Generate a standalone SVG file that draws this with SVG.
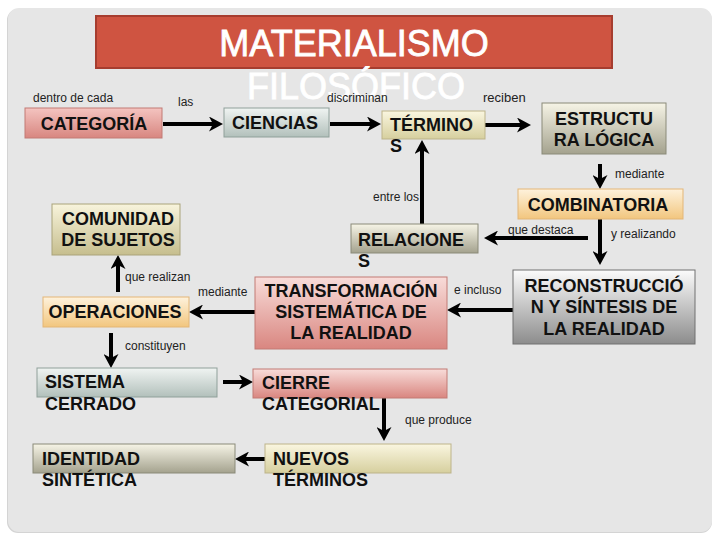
<svg xmlns="http://www.w3.org/2000/svg" width="720" height="540" viewBox="0 0 720 540">
<style>
.lbl{font-family:"Liberation Sans",Arial,sans-serif;font-size:12px;fill:#222}
.bt{font-family:"Liberation Sans",Arial,sans-serif;font-size:18px;font-weight:bold;fill:#111}
.btc{font-family:"Liberation Sans",Arial,sans-serif;font-size:18px;font-weight:bold;fill:#111;text-anchor:middle}
.ttl{font-family:"Liberation Sans",Arial,sans-serif;font-size:36px;fill:#fff;text-anchor:middle;stroke:#fff;stroke-width:0.8}
.con line{stroke:#000;stroke-width:4;marker-end:url(#ah)}
</style>
<defs>
<marker id="ah" markerUnits="userSpaceOnUse" markerWidth="15" markerHeight="15" refX="4" refY="7.5" orient="auto">
<path d="M0,0 L14,7.5 L0,15 L4,7.5 z" fill="#000"/>
</marker>
<linearGradient id="gPink" x1="0" y1="0" x2="0" y2="1"><stop offset="0" stop-color="#f8dcd9"/><stop offset="1" stop-color="#d98680"/></linearGradient>
<linearGradient id="gPink2" x1="0" y1="0" x2="0" y2="1"><stop offset="0" stop-color="#f4c4c0"/><stop offset="1" stop-color="#d88680"/></linearGradient>
<linearGradient id="gGreen" x1="0" y1="0" x2="0" y2="1"><stop offset="0" stop-color="#f0f4f2"/><stop offset="1" stop-color="#b2c0bb"/></linearGradient>
<linearGradient id="gYellow" x1="0" y1="0" x2="0" y2="1"><stop offset="0" stop-color="#faf6e0"/><stop offset="1" stop-color="#d6cf9e"/></linearGradient>
<linearGradient id="gOlive" x1="0" y1="0" x2="0" y2="1"><stop offset="0" stop-color="#f6f4e6"/><stop offset="1" stop-color="#a4a28e"/></linearGradient>
<linearGradient id="gOlive2" x1="0" y1="0" x2="0" y2="1"><stop offset="0" stop-color="#f8f4dc"/><stop offset="1" stop-color="#c6be8e"/></linearGradient>
<linearGradient id="gOrange" x1="0" y1="0" x2="0" y2="1"><stop offset="0" stop-color="#fef2dc"/><stop offset="1" stop-color="#f2c67e"/></linearGradient>
<linearGradient id="gGray" x1="0" y1="0" x2="0" y2="1"><stop offset="0" stop-color="#fbfbfb"/><stop offset="1" stop-color="#8c8c8c"/></linearGradient>
</defs>
<rect x="0" y="0" width="720" height="540" fill="#fff"/>
<rect x="7" y="9" width="705" height="524" rx="11" fill="#d4d4d4"/>
<rect x="8" y="8" width="704" height="524" rx="11" fill="#e6e6e6"/>

<g id="title">
<rect x="96" y="16" width="516" height="52" fill="#cf5441" stroke="#a63d2f" stroke-width="2"/>
<text class="ttl" x="354" y="56">MATERIALISMO</text>
<text class="ttl" x="356" y="99">FILOSÓFICO</text>
</g>

<g id="labels">
<text class="lbl" x="33" y="102">dentro de cada</text>
<text class="lbl" x="178" y="106">las</text>
<text class="lbl" x="327" y="102">discriminan</text>
<text class="lbl" x="483" y="102" style="font-size:13px">reciben</text>
<text class="lbl" x="615" y="178">mediante</text>
<text class="lbl" x="373" y="201">entre los</text>
<text class="lbl" x="508" y="234">que destaca</text>
<text class="lbl" x="611" y="238">y realizando</text>
<text class="lbl" x="454" y="294">e incluso</text>
<text class="lbl" x="198" y="296">mediante</text>
<text class="lbl" x="125" y="281">que realizan</text>
<text class="lbl" x="125" y="350">constituyen</text>
<text class="lbl" x="405" y="424">que produce</text>
</g>

<g class="con" id="connectors">
<line x1="163" y1="124" x2="213" y2="124"/>
<line x1="330" y1="124" x2="371" y2="124"/>
<line x1="485" y1="125" x2="521" y2="125"/>
<line x1="600" y1="164" x2="600" y2="179"/>
<line x1="600" y1="219" x2="600" y2="255"/>
<line x1="588" y1="238" x2="494" y2="238"/>
<line x1="422" y1="224" x2="422" y2="150"/>
<line x1="513" y1="310" x2="457" y2="310"/>
<line x1="255" y1="312" x2="199" y2="312"/>
<line x1="118" y1="292" x2="118" y2="265"/>
<line x1="111" y1="333" x2="111" y2="358"/>
<line x1="223" y1="382" x2="243" y2="382"/>
<line x1="384" y1="398" x2="384" y2="431"/>
<line x1="265" y1="459" x2="245" y2="459"/>
</g>

<g id="categoria">
<rect x="25" y="108" width="137" height="30" fill="url(#gPink2)" stroke="#c27a74"/>
<text class="btc" x="94" y="130">CATEGORÍA</text>
</g>
<g id="ciencias">
<rect x="224" y="108" width="105" height="29" fill="url(#gGreen)" stroke="#8fa09a"/>
<text class="btc" x="275" y="129">CIENCIAS</text>
</g>
<g id="terminos">
<rect x="382" y="111" width="103" height="28" fill="url(#gYellow)" stroke="#bdb48a"/>
<text class="bt" x="390" y="131">TÉRMINO</text>
<text class="bt" x="390" y="152">S</text>
</g>
<g id="estructura">
<rect x="542" y="103" width="124" height="51" fill="url(#gOlive)" stroke="#8a8a78"/>
<text class="btc" x="604" y="125">ESTRUCTU</text>
<text class="btc" x="604" y="146">RA LÓGICA</text>
</g>
<g id="combinatoria">
<rect x="518" y="189" width="165" height="30" fill="url(#gOrange)" stroke="#e3b677"/>
<text class="btc" x="598" y="211">COMBINATORIA</text>
</g>
<g id="relaciones">
<rect x="351" y="224" width="127" height="29" fill="url(#gOlive)" stroke="#8a8a78"/>
<text class="bt" x="358" y="246">RELACIONE</text>
<text class="bt" x="358" y="267">S</text>
</g>
<g id="comunidad">
<rect x="52" y="204" width="128" height="51" fill="url(#gOlive2)" stroke="#aaa37a"/>
<text class="btc" x="118" y="225">COMUNIDAD</text>
<text class="btc" x="118" y="246">DE SUJETOS</text>
</g>
<g id="reconstruccion">
<rect x="513" y="270" width="182" height="74" fill="url(#gGray)" stroke="#707070"/>
<text class="btc" x="604" y="292">RECONSTRUCCIÓ</text>
<text class="btc" x="604" y="313">N Y SÍNTESIS DE</text>
<text class="btc" x="604" y="335">LA REALIDAD</text>
</g>
<g id="transformacion">
<rect x="255" y="277" width="192" height="72" fill="url(#gPink)" stroke="#c27a74"/>
<text class="btc" x="351" y="297">TRANSFORMACIÓN</text>
<text class="btc" x="351" y="318">SISTEMÁTICA DE</text>
<text class="btc" x="351" y="339">LA REALIDAD</text>
</g>
<g id="operaciones">
<rect x="43" y="297" width="146" height="30" fill="url(#gOrange)" stroke="#e3b677"/>
<text class="btc" x="115" y="318">OPERACIONES</text>
</g>
<g id="sistema">
<rect x="37" y="368" width="180" height="29" fill="url(#gGreen)" stroke="#8fa09a"/>
<text class="bt" x="45" y="388">SISTEMA</text>
<text class="bt" x="45" y="410">CERRADO</text>
</g>
<g id="cierre">
<rect x="253" y="369" width="194" height="29" fill="url(#gPink)" stroke="#c27a74"/>
<text class="bt" x="262" y="389">CIERRE</text>
<text class="bt" x="262" y="410">CATEGORIAL</text>
</g>
<g id="identidad">
<rect x="33" y="444" width="202" height="29" fill="url(#gOlive)" stroke="#8a8a78"/>
<text class="bt" x="42" y="465">IDENTIDAD</text>
<text class="bt" x="42" y="486">SINTÉTICA</text>
</g>
<g id="nuevos">
<rect x="265" y="444" width="186" height="29" fill="url(#gYellow)" stroke="#bdb48a"/>
<text class="bt" x="273" y="465">NUEVOS</text>
<text class="bt" x="273" y="486">TÉRMINOS</text>
</g>
</svg>
